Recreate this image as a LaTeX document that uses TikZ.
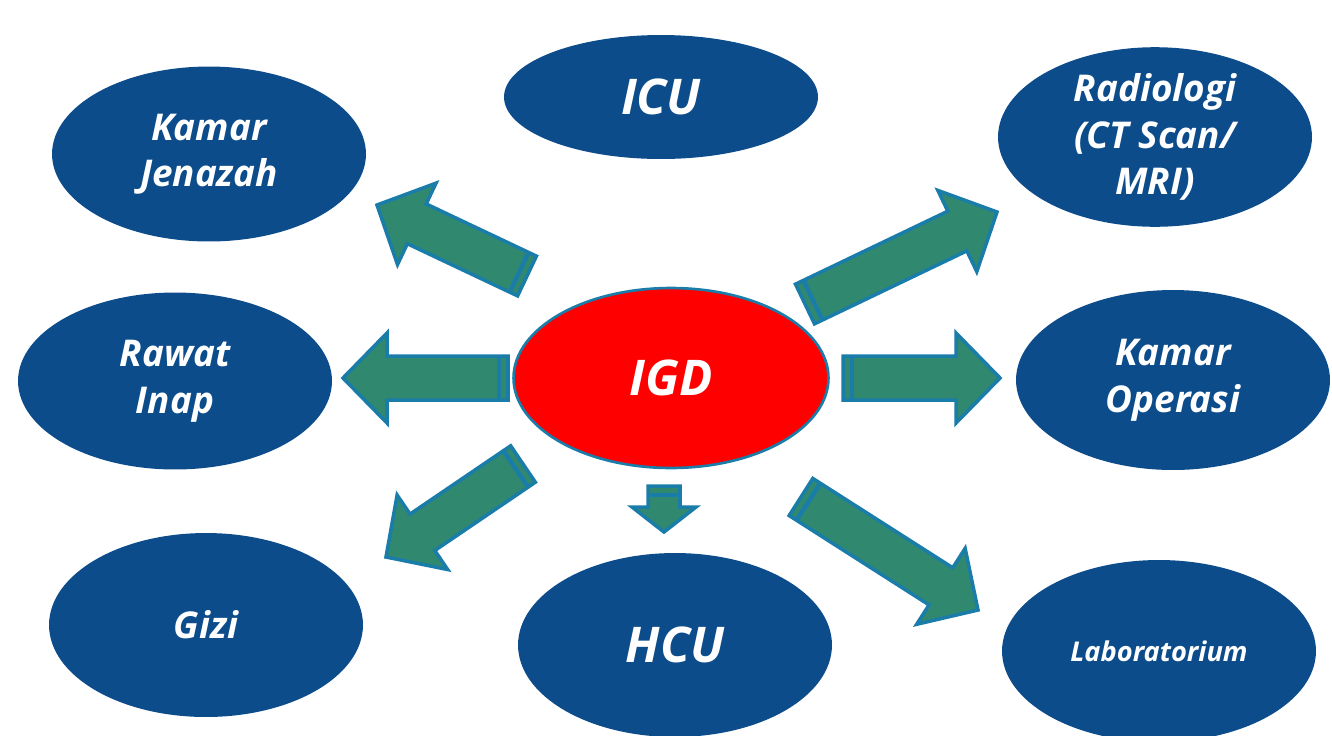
\documentclass[tikz,border=0pt]{standalone}
\usepackage{fontspec}
\setmainfont{Open Sans}
\usetikzlibrary{calc,shapes.geometric}
\definecolor{unitblue}{HTML}{0D4C8B}
\definecolor{arrowgreen}{HTML}{30896E}
\definecolor{rimblue}{HTML}{1A7CA8}
\definecolor{igdred}{HTML}{FF0000}
\tikzset{
    unit/.style={ellipse, fill=unitblue, text=white, minimum width=6.28cm, inner sep=0pt, align=center,
        font=\bfseries\itshape\fontsize{21}{26.5}\selectfont},
    bigtext/.style={font=\bfseries\itshape\fontsize{28}{34}\selectfont},
    arrowbody/.style={fill=arrowgreen, draw=rimblue, line width=2pt, line join=miter},
}
% block arrow: tail, tip, shaft half width, head half width, head length
\newcommand{\blockarrow}[5]{%
    \coordinate (hb) at ($(#2)!#5!(#1)$);
    \coordinate (ts) at ($(#1)!5pt!(#2)$);
    \filldraw[arrowbody] ($(#1)!#3!90:(#2)$) -- ($(hb)!#3!90:(#2)$) -- ($(hb)!#4!90:(#2)$) -- (#2)
        -- ($(hb)!#4!-90:(#2)$) -- ($(hb)!#3!-90:(#2)$) -- ($(#1)!#3!-90:(#2)$) -- cycle;
    \draw[rimblue, line width=2.5pt] ($(ts)!#3!90:(#2)$) -- ($(ts)!#3!-90:(#2)$);
}
\begin{document}
\begin{tikzpicture}[x=0.02cm, y=-0.02cm]
    \useasboundingbox (0,0) rectangle (1332,735);

    % units
    \node[unit, bigtext, minimum height=2.48cm] (icu) at (661,97) {ICU};
    \node[unit, minimum height=3.5cm] (jenazah) at (209,154) {Kamar\\Jenazah};
    \node[unit, minimum height=3.4cm] (radiologi) at (1155,137) {Radiologi\\(CT Scan/\\MRI)};
    \node[unit, minimum height=3.54cm] (rawat) at (175,381) {Rawat\\Inap};
    \node[ellipse, fill=igdred, draw=rimblue, line width=1.5pt, text=white, bigtext,
        minimum width=6.3cm, minimum height=3.6cm] (igd) at (671,378) {IGD};
    \node[unit, minimum height=3.6cm] (operasi) at (1173,380) {Kamar\\Operasi};
    \node[unit, minimum height=3.68cm] (gizi) at (206,625) {Gizi};
    \node[unit, bigtext, minimum height=3.68cm] (hcu) at (675,645) {HCU};
    \node[unit, minimum height=3.64cm, font=\bfseries\itshape\fontsize{15.5}{18}\selectfont] (lab) at (1159,651) {Laboratorium};

    % arrow ends
    \coordinate (jz-tail) at (527,276);  \coordinate (jz-tip) at (377,205);
    \coordinate (ri-tail) at (508,378);  \coordinate (ri-tip) at (343,378);
    \coordinate (gz-tail) at (523,464);  \coordinate (gz-tip) at (386,557);
    \coordinate (hc-tail) at (664,486);  \coordinate (hc-tip) at (664,532);
    \coordinate (rd-tail) at (805,304);  \coordinate (rd-tip) at (997,212);
    \coordinate (op-tail) at (843,378);  \coordinate (op-tip) at (1000,378);
    \coordinate (lb-tail) at (801,497);  \coordinate (lb-tip) at (978,610);

    \blockarrow{jz-tail}{jz-tip}{0.44cm}{0.9cm}{0.88cm}
    \blockarrow{ri-tail}{ri-tip}{0.44cm}{0.9cm}{0.88cm}
    \blockarrow{gz-tail}{gz-tip}{0.44cm}{0.9cm}{0.88cm}
    \blockarrow{hc-tail}{hc-tip}{0.32cm}{0.64cm}{0.5cm}
    \blockarrow{rd-tail}{rd-tip}{0.44cm}{0.9cm}{0.88cm}
    \blockarrow{op-tail}{op-tip}{0.44cm}{0.9cm}{0.88cm}
    \blockarrow{lb-tail}{lb-tip}{0.44cm}{0.9cm}{0.88cm}
\end{tikzpicture}
\end{document}
